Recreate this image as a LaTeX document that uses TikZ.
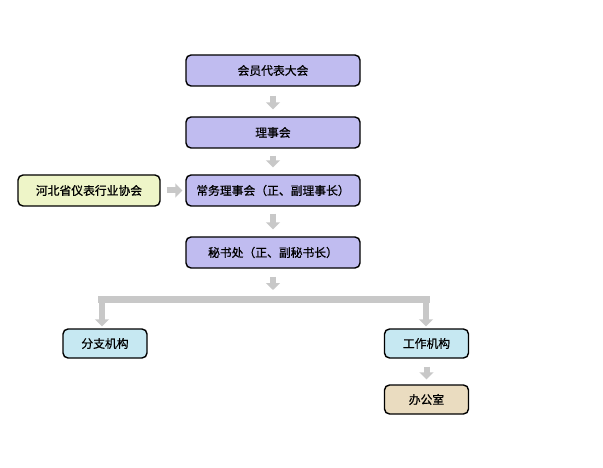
\documentclass[tikz,border=0pt]{standalone}
\usepackage{fontspec}
\setmainfont{Noto Sans CJK SC}[FakeBold=0.7]
\usetikzlibrary{arrows.meta,positioning}
\definecolor{purp}{RGB}{192,188,240}
\definecolor{grn}{RGB}{238,245,200}
\definecolor{blu}{RGB}{198,232,242}
\definecolor{tan}{RGB}{234,220,192}
\definecolor{arr}{RGB}{200,200,200}
\tikzset{
  box/.style={draw=black,line width=1.4pt,rounded corners=5pt,inner sep=0pt,font=\fontsize{11.8}{12}\selectfont},
  wide/.style={box,fill=purp,minimum width=174pt,minimum height=31pt},
  small/.style={box,minimum width=84pt,minimum height=29pt},
  garrow/.style={draw=arr,line width=6pt,-{Triangle[width=14pt,length=7pt]}},
  gbar/.style={draw=arr,line width=7pt}
}
\begin{document}
\begin{tikzpicture}[x=1pt,y=-1pt]
\useasboundingbox (0,0) rectangle (603,468);
\node[wide] (hy) at (273,70.5) {会员代表大会};
\node[wide] (lsh) at (273,132.5) {理事会};
\node[wide] (cw) at (273,190.5) {常务理事会（正、副理事长）};
\node[box,fill=grn,minimum width=142pt,minimum height=31pt] (hb) at (89,190.5) {河北省仪表行业协会};
\node[wide] (ms) at (273,252.5) {秘书处（正、副秘书长）};
\node[small,fill=blu] (fz) at (105,343.5) {分支机构};
\node[small,fill=blu] (gz) at (426.5,343.5) {工作机构};
\node[small,fill=tan] (bg) at (426.5,399.5) {办公室};
\coordinate (bl) at (102,299);
\coordinate (br) at (426,299);
\coordinate (bm) at (273,290);
\draw[garrow,shorten <=9pt,shorten >=7pt] (hy.south) -- (lsh.north);
\draw[garrow,shorten <=7pt,shorten >=7pt] (lsh.south) -- (cw.north);
\draw[garrow,shorten <=7pt,shorten >=7pt] (cw.south) -- (ms.north);
\draw[garrow,shorten <=6pt,shorten >=3pt] (hb.east) -- (cw.west);
\draw[garrow,shorten <=8pt] (ms.south) -- (bm);
\draw[gbar] (98,299) -- (430,299);
\draw[garrow,shorten >=2pt] (bl) -- (bl |- fz.north);
\draw[garrow,shorten >=2pt] (br) -- (br |- gz.north);
\draw[garrow,shorten <=8pt,shorten >=5pt] (gz.south) -- (bg.north);
\end{tikzpicture}
\end{document}
